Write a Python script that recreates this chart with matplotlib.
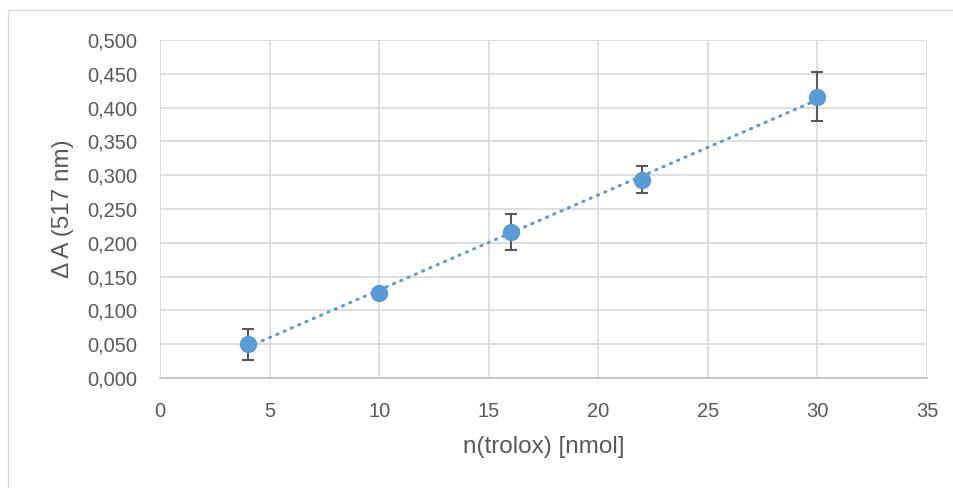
import numpy as np
import matplotlib.pyplot as plt
from matplotlib.patches import Rectangle
from matplotlib.ticker import FuncFormatter, MultipleLocator

# Données
n_trolox = [4, 10, 16, 22, 30]                  # [nmol]
delta_A = [0.050, 0.126, 0.216, 0.293, 0.416]   # absorbance à 517 nm
err = [0.023, 0.004, 0.027, 0.020, 0.036]

gris = '#595959'
bleu = '#5B9BD5'

plt.rcParams['font.family'] = ['Liberation Sans', 'DejaVu Sans']

fig = plt.figure(figsize=(9.54, 4.88), dpi=100)
ax = fig.add_axes([160/954, 1-378/488, (927-160)/954, (378-40)/488])

# cadre extérieur
fig.patches.append(Rectangle((8/954, -0.1), 1.0, 1.1 - 10/488, transform=fig.transFigure,
                             fill=False, edgecolor='#d9d9d9', linewidth=1))

# droite de tendance (régression linéaire)
a, b = np.polyfit(n_trolox, delta_A, 1)
xt = np.array([min(n_trolox), max(n_trolox)])
ax.plot(xt, a*xt + b, color=bleu, linewidth=2.2, linestyle=(0, (0.4, 2.2)),
        dash_capstyle='round', zorder=3)

ax.errorbar(n_trolox, delta_A, yerr=err, fmt='o', color=bleu, markersize=11.5,
            ecolor=gris, elinewidth=1.5, capsize=4.5, capthick=1.5, zorder=4)

ax.set_xlim(0, 35)
ax.set_ylim(0, 0.5)
ax.xaxis.set_major_locator(MultipleLocator(5))
ax.yaxis.set_major_locator(MultipleLocator(0.05))
ax.yaxis.set_major_formatter(FuncFormatter(lambda v, p: f'{v:.3f}'.replace('.', ',')))

ax.grid(True, color='#d9d9d9', linewidth=1.2)
ax.set_axisbelow(True)
for s in ['top', 'right', 'left']:
    ax.spines[s].set_visible(False)
ax.spines['bottom'].set_color('#bfbfbf')
ax.spines['bottom'].set_linewidth(1.2)
ax.tick_params(length=0, labelsize=14.5, colors=gris)
ax.tick_params(axis='y', pad=16.5)
ax.tick_params(axis='x', pad=17)

ax.set_xlabel('n(trolox) [nmol]', fontsize=17.5, color=gris, labelpad=11)
ax.set_ylabel('Δ A (517 nm)', fontsize=17.5, color=gris, labelpad=9)

fig.savefig('out.png', dpi=100)
